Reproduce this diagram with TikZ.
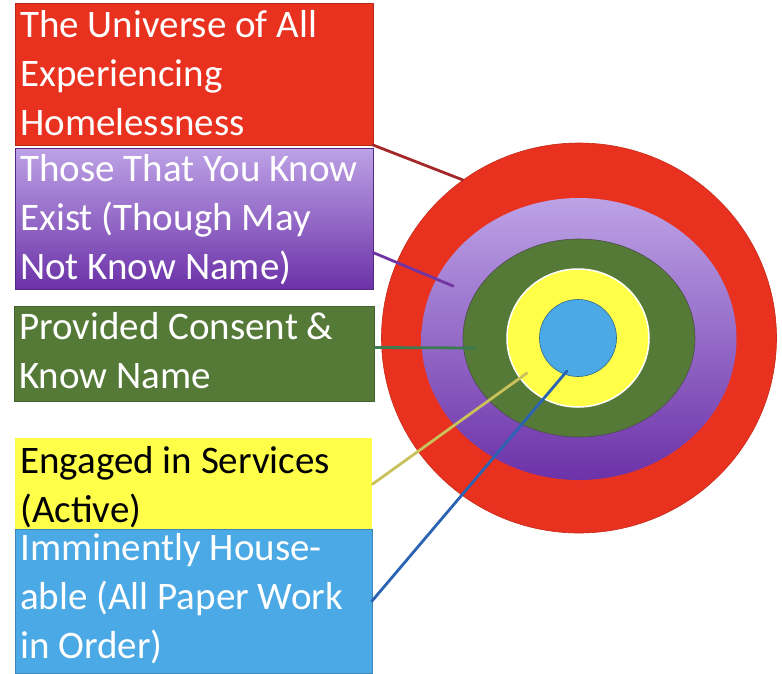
\documentclass[tikz,border=0pt]{standalone}
\usepackage{fontspec}
\setmainfont{Carlito}
\usetikzlibrary{shapes.geometric}
\definecolor{cred}{HTML}{E8321F}
\definecolor{credline}{HTML}{A3282A}
\definecolor{cpurpleT}{HTML}{BDA2E6}
\definecolor{cpurpleB}{HTML}{6C32A8}
\definecolor{cpurpleline}{HTML}{7035A0}
\definecolor{cgreen}{HTML}{557A38}
\definecolor{cgreenline}{HTML}{3C7A52}
\definecolor{cyellow}{HTML}{FFFF4A}
\definecolor{cyellowline}{HTML}{C9C15A}
\definecolor{cblue}{HTML}{4BA9E6}
\definecolor{cblueline}{HTML}{2A63B3}
\tikzset{
  labbox/.style={rectangle, anchor=north west, inner sep=0pt, outer sep=0pt, draw=#1!80!black, line width=0.6pt},
  labtxt/.style={anchor=north west, inner xsep=5pt, inner ysep=7pt, align=left,
    font=\fontsize{39}{49}\selectfont, text=white},
  ring/.style={ellipse, inner sep=0pt, outer sep=0pt},
  conn/.style={line width=2.8pt, line cap=round},
}
\begin{document}
\begin{tikzpicture}[x=1pt, y=-1pt]
\useasboundingbox (0,0) rectangle (782,673);
% target
\node[ring, fill=cred, draw=cred!85!black, line width=0.6pt, minimum width=395, minimum height=390] (c1) at (579,338) {};
\node[ring, top color=cpurpleT, bottom color=cpurpleB, minimum width=315, minimum height=282] (c2) at (579,339) {};
\node[ring, fill=cgreen, draw=black!70, line width=0.6pt, minimum width=232, minimum height=198] (c3) at (579,338) {};
\node[ring, fill=cyellow, draw=white, line width=1.5pt, minimum width=142, minimum height=138] (c4) at (578,338) {};
\node[ring, fill=cblue, draw=cblue!60!black, line width=0.6pt, minimum width=77, minimum height=77] (c5) at (578,338) {};
% boxes
\node[labbox=cred, fill=cred, minimum width=358, minimum height=142] (b1) at (15,3) {};
\node[labbox=cpurpleB, top color=cpurpleT, bottom color=cpurpleB, minimum width=358, minimum height=141] (b2) at (15,148) {};
\node[labbox=cgreen, fill=cgreen, minimum width=360, minimum height=95] (b3) at (14,306) {};
\node[rectangle, anchor=north west, inner sep=0pt, fill=cyellow, minimum width=357, minimum height=92] (b4) at (15,438) {};
\node[labbox=cblue, fill=cblue, minimum width=357, minimum height=144] (b5) at (15,529) {};
% texts
\node[labtxt] (t1) at (b1.north west) {The Universe of All\\Experiencing\\Homelessness};
\node[labtxt, inner ysep=6pt] (t2) at (b2.north west) {Those That You Know\\Exist (Though May\\Not Know Name)};
\node[labtxt, inner ysep=6pt] (t3) at (b3.north west) {Provided Consent \&\\Know Name};
\node[labtxt, text=black, inner ysep=8pt] (t4) at (b4.north west) {Engaged in Services\\(Active)};
\node[labtxt, inner ysep=4pt] (t5) at (b5.north west) {Imminently House-\\able (All Paper Work\\in Order)};
% connector ends
\coordinate (e1) at (463,180);
\coordinate (e2) at (453,286);
\coordinate (e3) at (475,348);
\coordinate (e4) at (527,373);
\coordinate (e5) at (567,371);
% connectors
\draw[conn, credline] (b1.south east) -- (e1);
\draw[conn, cpurpleline] ([yshift=-34pt]b2.east) -- (e2);
\draw[conn, cgreenline] ([yshift=6pt]b3.east) -- (e3);
\draw[conn, cyellowline] (b4.east) -- (e4);
\draw[conn, cblueline] (b5.east) -- (e5);
\end{tikzpicture}
\end{document}
